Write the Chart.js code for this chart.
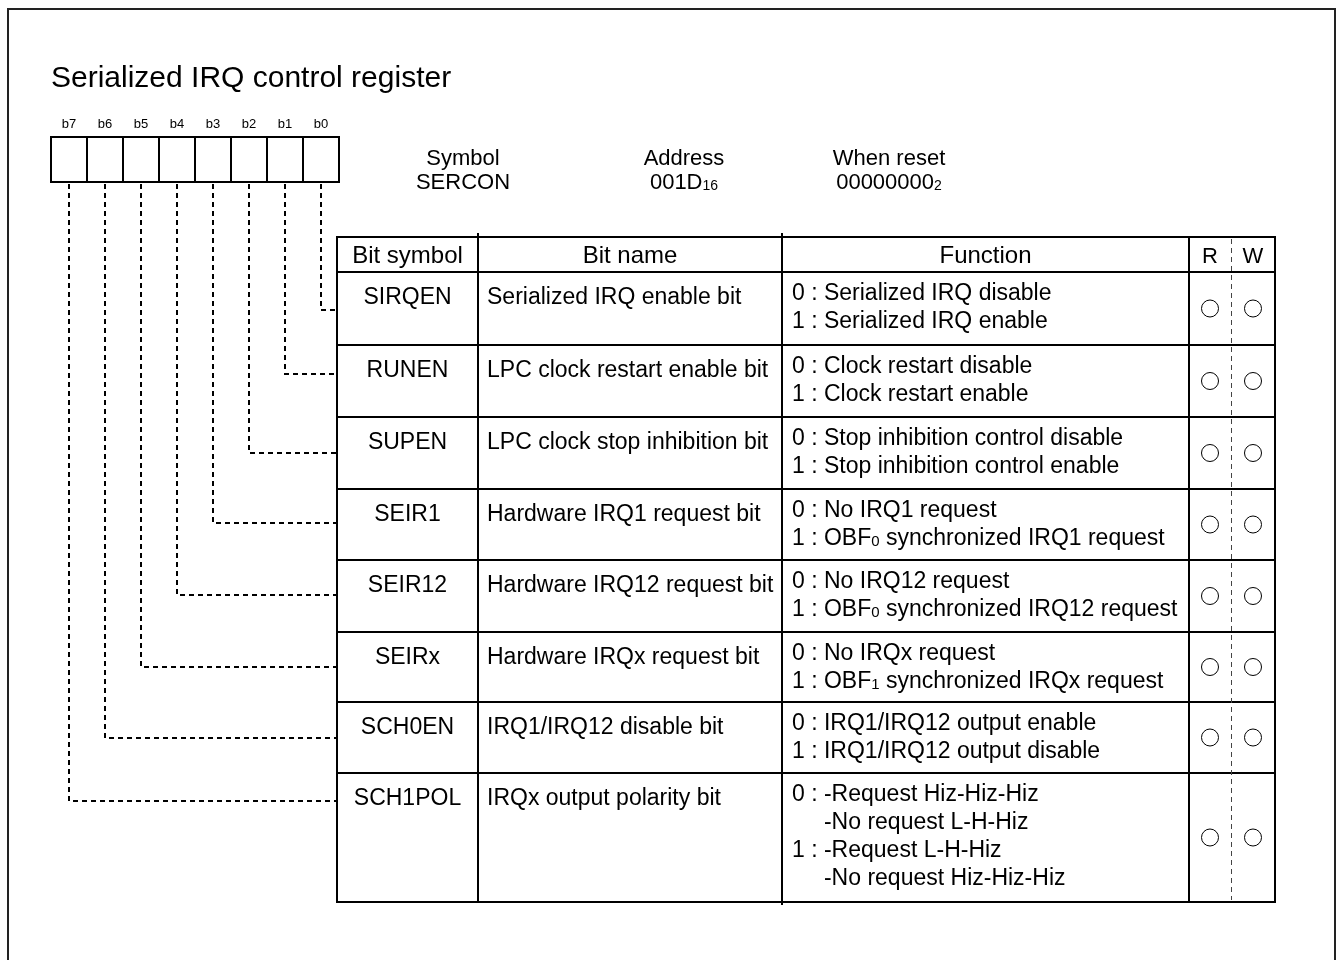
<!DOCTYPE html>
<html>
<head>
<meta charset="utf-8">
<title>Serialized IRQ control register</title>
<script src="https://cdn.jsdelivr.net/npm/chart.js@4.4.1/dist/chart.umd.min.js"></script>
<style>
  html, body { margin: 0; padding: 0; background: #fff; }
  canvas { display: block; }
</style>
</head>
<body>
<canvas id="reg" width="1336" height="960"></canvas>
<script>
// ===== data =====
const title = "Serialized IRQ control register";
const bitLabels = ["b7", "b6", "b5", "b4", "b3", "b2", "b1", "b0"];
const infoLabels = ["Symbol", "Address", "When reset"];
const infoValues = ["SERCON", "001D_{16}", "00000000_{2}"];
const headers = ["Bit symbol", "Bit name", "Function", "R", "W"];

// table rows, b0 first
const bitSymbols = ["SIRQEN", "RUNEN", "SUPEN", "SEIR1", "SEIR12", "SEIRx", "SCH0EN", "SCH1POL"];
const bitNames = [
  "Serialized IRQ enable bit",
  "LPC clock restart enable bit",
  "LPC clock stop inhibition bit",
  "Hardware IRQ1 request bit",
  "Hardware IRQ12 request bit",
  "Hardware IRQx request bit",
  "IRQ1/IRQ12 disable bit",
  "IRQx output polarity bit",
];
const functions = [
  ["0 : Serialized IRQ disable", "1 : Serialized IRQ enable"],
  ["0 : Clock restart disable", "1 : Clock restart enable"],
  ["0 : Stop inhibition control disable", "1 : Stop inhibition control enable"],
  ["0 : No IRQ1 request", "1 : OBF_{0} synchronized IRQ1 request"],
  ["0 : No IRQ12 request", "1 : OBF_{0} synchronized IRQ12 request"],
  ["0 : No IRQx request", "1 : OBF_{1} synchronized IRQx request"],
  ["0 : IRQ1/IRQ12 output enable", "1 : IRQ1/IRQ12 output disable"],
  ["0 : -Request Hiz-Hiz-Hiz", "-No request L-H-Hiz", "1 : -Request L-H-Hiz", "-No request Hiz-Hiz-Hiz"],
];
const readable = [1, 1, 1, 1, 1, 1, 1, 1];
const writable = [1, 1, 1, 1, 1, 1, 1, 1];

// ===== layout (page units, 1 unit = 1 px) =====
const FONT = '"Liberation Sans", Arial, Helvetica, sans-serif';
const L = {
  frame: [8, 9, 1335, 990],
  titleX: 51, titleY: 87, titleSize: 30,
  boxX: 51, boxW: 36, boxTop: 137, boxBottom: 182, bitLabelY: 128,
  infoX: [463, 684, 889], infoY: [165, 189], infoSize: 22,
  cols: [337, 478, 782, 1189, 1275], rwSplit: 1231,
  headTop: 237, headBase: 26, headSize: 24,
  rowLines: [272, 345, 417, 489, 560, 632, 702, 773, 902],
  connY: [310, 374, 453, 523, 595, 667, 738, 801],
  bodySize: 23, nameX: 487, funcX: 792, symBase: 32, funcBase: 28, funcStep: 28,
};

const rowCenter = i => (L.rowLines[i] + L.rowLines[i + 1]) / 2;
const rCol = (L.cols[3] + L.rwSplit) / 2;
const wCol = (L.rwSplit + L.cols[4]) / 2;

function parseSub(str) {
  const out = [];
  const re = /_\{([^}]*)\}/g;
  let last = 0, m;
  while ((m = re.exec(str))) {
    if (m.index > last) out.push({ t: str.slice(last, m.index) });
    out.push({ t: m[1], sub: true });
    last = re.lastIndex;
  }
  if (last < str.length) out.push({ t: str.slice(last) });
  return out;
}

function drawText(ctx, str, x, y, size, align) {
  const parts = parseSub(str);
  const subSize = Math.round(size * 0.65);
  const widths = parts.map(p => {
    ctx.font = `${p.sub ? subSize : size}px ${FONT}`;
    return ctx.measureText(p.t).width;
  });
  const total = widths.reduce((a, b) => a + b, 0);
  let cx = align === "center" ? x - total / 2 : x;
  ctx.textAlign = "left";
  ctx.textBaseline = "alphabetic";
  parts.forEach((p, i) => {
    ctx.font = `${p.sub ? subSize : size}px ${FONT}`;
    ctx.fillText(p.t, cx, y + (p.sub ? 1 : 0));
    cx += widths[i];
  });
}

const diagram = {
  id: "registerDiagram",
  beforeDatasetsDraw(chart) {
    const ctx = chart.ctx;
    const X = v => chart.scales.x.getPixelForValue(v);
    const Y = v => chart.scales.y.getPixelForValue(v);
    const line = (x0, y0, x1, y1) => {
      ctx.beginPath(); ctx.moveTo(X(x0), Y(y0)); ctx.lineTo(X(x1), Y(y1)); ctx.stroke();
    };

    ctx.save();
    ctx.fillStyle = "#000";
    ctx.strokeStyle = "#000";

    // frame
    const [fx0, fy0, fx1, fy1] = L.frame;
    ctx.strokeStyle = "#222";
    ctx.lineWidth = 2;
    ctx.strokeRect(X(fx0), Y(fy0), X(fx1) - X(fx0), Y(fy1) - Y(fy0));
    ctx.strokeStyle = "#000";

    // title
    drawText(ctx, title, X(L.titleX), Y(L.titleY), L.titleSize, "left");

    // bit boxes
    bitLabels.forEach((b, j) => {
      const cx = L.boxX + L.boxW * (j + 0.5);
      drawText(ctx, b, X(cx), Y(L.bitLabelY), 13, "center");
    });
    ctx.lineWidth = 2;
    const bx1 = L.boxX + L.boxW * bitLabels.length;
    ctx.strokeRect(X(L.boxX), Y(L.boxTop), X(bx1) - X(L.boxX), Y(L.boxBottom) - Y(L.boxTop));
    for (let j = 1; j < bitLabels.length; j++) {
      const x = L.boxX + L.boxW * j;
      line(x, L.boxTop, x, L.boxBottom);
    }

    // register info
    infoLabels.forEach((s, k) => {
      drawText(ctx, s, X(L.infoX[k]), Y(L.infoY[0]), L.infoSize, "center");
      drawText(ctx, infoValues[k], X(L.infoX[k]), Y(L.infoY[1]), L.infoSize, "center");
    });

    // dashed connectors from each bit to its row
    ctx.setLineDash([5, 4]);
    ctx.lineWidth = 2;
    bitLabels.forEach((b, j) => {
      const row = bitLabels.length - 1 - j;
      const cx = Math.round(L.boxX + L.boxW * (j + 0.5));
      const cy = L.connY[row];
      ctx.beginPath();
      ctx.moveTo(X(cx), Y(L.boxBottom + 2));
      ctx.lineTo(X(cx), Y(cy));
      ctx.lineTo(X(L.cols[0]), Y(cy));
      ctx.stroke();
    });
    ctx.setLineDash([]);

    // table grid
    const top = L.headTop, bottom = L.rowLines[L.rowLines.length - 1];
    ctx.lineWidth = 2;
    ctx.strokeRect(X(L.cols[0]), Y(top), X(L.cols[4]) - X(L.cols[0]), Y(bottom) - Y(top));
    L.rowLines.slice(0, -1).forEach(y => line(L.cols[0], y, L.cols[4], y));
    line(L.cols[1], top - 4, L.cols[1], bottom);
    line(L.cols[2], top - 4, L.cols[2], bottom + 3);
    line(L.cols[3], top, L.cols[3], bottom);

    ctx.lineWidth = 1;
    ctx.strokeStyle = "#444";
    ctx.setLineDash([5, 4]);
    line(L.rwSplit + 0.5, top + 2, L.rwSplit + 0.5, bottom - 2);
    ctx.setLineDash([]);
    ctx.strokeStyle = "#000";

    // header
    const hy = top + L.headBase;
    drawText(ctx, headers[0], X((L.cols[0] + L.cols[1]) / 2), Y(hy), L.headSize, "center");
    drawText(ctx, headers[1], X((L.cols[1] + L.cols[2]) / 2), Y(hy), L.headSize, "center");
    drawText(ctx, headers[2], X((L.cols[2] + L.cols[3]) / 2), Y(hy), L.headSize, "center");
    drawText(ctx, headers[3], X(rCol), Y(hy), L.headSize - 2, "center");
    drawText(ctx, headers[4], X(wCol), Y(hy), L.headSize - 2, "center");

    // rows
    ctx.font = `${L.bodySize}px ${FONT}`;
    const indent = ctx.measureText("0 : ").width;
    bitSymbols.forEach((s, i) => {
      const rt = L.rowLines[i];
      drawText(ctx, s, X((L.cols[0] + L.cols[1]) / 2), Y(rt + L.symBase), L.bodySize, "center");
      drawText(ctx, bitNames[i], X(L.nameX), Y(rt + L.symBase), L.bodySize, "left");
      functions[i].forEach((f, k) => {
        const x = /^\d/.test(f) ? L.funcX : L.funcX + indent;
        drawText(ctx, f, X(x), Y(rt + L.funcBase + L.funcStep * k), L.bodySize, "left");
      });
    });

    ctx.restore();
  },
};

const markStyle = {
  type: "scatter",
  pointStyle: "circle",
  pointRadius: 8.5,
  pointHoverRadius: 8.5,
  pointBorderWidth: 1,
  pointBackgroundColor: "#fff",
  pointBorderColor: "#000",
  showLine: false,
  clip: false,
};

new Chart(document.getElementById("reg"), {
  type: "scatter",
  data: {
    datasets: [
      { ...markStyle, label: "R", data: readable.map((v, i) => v ? { x: rCol, y: rowCenter(i) } : null).filter(Boolean) },
      { ...markStyle, label: "W", data: writable.map((v, i) => v ? { x: wCol, y: rowCenter(i) } : null).filter(Boolean) },
    ],
  },
  options: {
    responsive: false,
    animation: false,
    devicePixelRatio: 1,
    events: [],
    layout: { padding: 0, autoPadding: false },
    plugins: { legend: { display: false }, tooltip: { enabled: false } },
    scales: {
      x: { type: "linear", min: 0, max: 1336, display: false },
      y: { type: "linear", min: 0, max: 960, reverse: true, display: false },
    },
  },
  plugins: [diagram],
});
</script>
</body>
</html>
